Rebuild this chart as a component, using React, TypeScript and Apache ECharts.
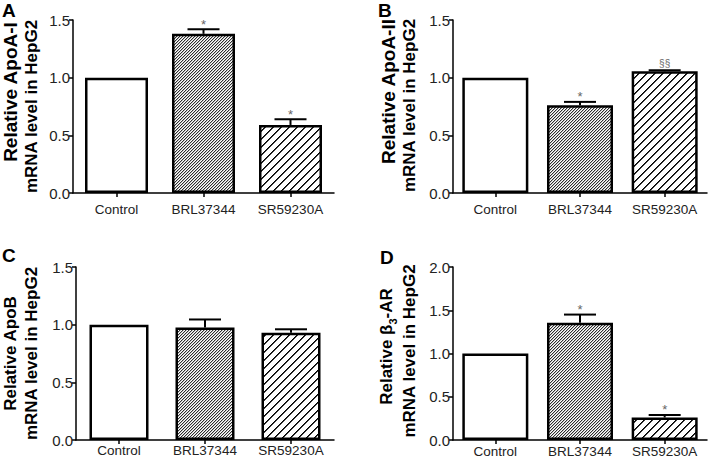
import React, { useEffect, useRef } from 'react';
import * as echarts from 'echarts';

// ---------- data ----------
const categories = ['Control', 'BRL37344', 'SR59230A'];

const apoAIMean = [1.0, 1.38, 0.59];
const apoAIErr = [0, 0.04, 0.05];
const apoAISig = ['', '*', '*'];

const apoAIIMean = [1.0, 0.76, 1.055];
const apoAIIErr = [0, 0.03, 0.01];
const apoAIISig = ['', '*', '§§'];

const apoBMean = [1.0, 0.975, 0.93];
const apoBErr = [0, 0.07, 0.03];
const apoBSig = ['', '', ''];

const beta3Mean = [1.0, 1.355, 0.26];
const beta3Err = [0, 0.095, 0.03];
const beta3Sig = ['', '*', '*'];

const titleA = ['Relative ApoA-I', 'mRNA level in HepG2'];
const titleB = ['Relative ApoA-II', 'mRNA level in HepG2'];
const titleC = ['Relative ApoB', 'mRNA level in HepG2'];
const titleD = ['{m|Relative β}{sub|3}{m|-AR}', 'mRNA level in HepG2'];

const FONT = '"Liberation Sans", Arial, Helvetica, sans-serif';

function makeHatch(period: number, shade: (d: number) => number) {
  const c = document.createElement('canvas');
  c.width = period;
  c.height = period;
  const ctx = c.getContext('2d')!;
  const img = ctx.createImageData(period, period);
  for (let y = 0; y < period; y++) {
    for (let x = 0; x < period; x++) {
      const d = (x + y) % period;
      const v = shade(d);
      const k = (y * period + x) * 4;
      img.data[k] = v;
      img.data[k + 1] = v;
      img.data[k + 2] = v;
      img.data[k + 3] = 255;
    }
  }
  ctx.putImageData(img, 0, 0);
  return { image: c, repeat: 'repeat', imageWidth: period, imageHeight: period } as any;
}

export default function App() {
  const ref = useRef<HTMLDivElement>(null);

  useEffect(() => {
    if (!ref.current) return;
    const chart = echarts.init(ref.current, null, { renderer: 'svg' });

    const dense = makeHatch(3, (d) => (d === 2 ? 45 : d === 0 ? 190 : 255));
    const sparse = makeHatch(8, (d) => (d === 7 ? 0 : d === 0 ? 60 : 255));
    const fills = ['#ffffff', dense, sparse];

    const panels = [
      {
        letter: 'A', mean: apoAIMean, err: apoAIErr, sig: apoAISig, yMax: 1.5,
        title: titleA, t1: { x: 10, y: 92, size: 19 }, t2: { x: 31, y: 106.5, size: 17 },
        grid: { left: 73, top: 20, width: 261, height: 173 },
        barWidth: 63, labelMargin: 9, letterPos: [2, 1],
      },
      {
        letter: 'B', mean: apoAIIMean, err: apoAIIErr, sig: apoAIISig, yMax: 1.5,
        title: titleB, t1: { x: 388, y: 91.5, size: 19 }, t2: { x: 409, y: 105.5, size: 17 },
        grid: { left: 453, top: 20, width: 254, height: 173 },
        barWidth: 66, labelMargin: 9, letterPos: [378, 1],
      },
      {
        letter: 'C', mean: apoBMean, err: apoBErr, sig: apoBSig, yMax: 1.5,
        title: titleC, t1: { x: 10, y: 353.5, size: 17 }, t2: { x: 31, y: 353.5, size: 17 },
        grid: { left: 76, top: 267, width: 258, height: 173 },
        barWidth: 59, labelMargin: 3, letterPos: [2, 246],
      },
      {
        letter: 'D', mean: beta3Mean, err: beta3Err, sig: beta3Sig, yMax: 2.0,
        title: titleD, t1: { x: 388, y: 346.5, size: 17 }, t2: { x: 409, y: 351, size: 17 },
        grid: { left: 453, top: 267, width: 254, height: 173 },
        barWidth: 66, labelMargin: 4, letterPos: [380, 248],
      },
    ];

    const grid: any[] = [];
    const xAxis: any[] = [];
    const yAxis: any[] = [];
    const series: any[] = [];
    const graphic: any[] = [];

    const subRich = {
      m: { fontSize: 17, fontWeight: 'bold', fill: '#000', lineHeight: 20, verticalAlign: 'top', fontFamily: FONT },
      sub: { fontSize: 11, fontWeight: 'bold', fill: '#000', lineHeight: 12, verticalAlign: 'bottom', fontFamily: FONT },
    };

    panels.forEach((p, gi) => {
      grid.push({ ...p.grid, outerBoundsMode: 'none', containLabel: false });
      xAxis.push({
        type: 'category',
        gridIndex: gi,
        data: categories,
        axisLine: { show: true, lineStyle: { color: '#000', width: 1.5 } },
        axisTick: { show: true, alignWithLabel: true, length: 4, lineStyle: { color: '#000', width: 1.5 } },
        axisLabel: { interval: 0, fontSize: 13.5, color: '#222', margin: p.labelMargin, fontFamily: FONT },
        splitLine: { show: false },
      });
      yAxis.push({
        type: 'value',
        gridIndex: gi,
        min: 0,
        max: p.yMax,
        interval: 0.5,
        axisLine: { show: true, lineStyle: { color: '#000', width: 1.5 } },
        axisTick: { show: true, length: 4, lineStyle: { color: '#000', width: 1.5 } },
        axisLabel: {
          fontSize: 15, color: '#222', margin: 3, fontFamily: FONT,
          formatter: (v: number) => v.toFixed(1),
        },
        splitLine: { show: false },
      });
      series.push({
        type: 'bar',
        xAxisIndex: gi,
        yAxisIndex: gi,
        barWidth: p.barWidth,
        data: p.mean.map((v, i) => ({ value: v, itemStyle: { color: fills[i] } })),
        itemStyle: { borderColor: '#000', borderWidth: 2.5 },
        z: 2,
      });
      const errs = p.err;
      const sigs = p.sig;
      series.push({
        type: 'custom',
        xAxisIndex: gi,
        yAxisIndex: gi,
        data: p.mean.map((m, i) => [i, m, m + errs[i]]),
        z: 4,
        renderItem: (params: any, api: any) => {
          const idx = params.dataIndex;
          const i = api.value(0);
          const base = api.coord([i, api.value(1)]);
          const top = api.coord([i, api.value(2)]);
          const children: any[] = [];
          if (errs[idx] > 0) {
            children.push({
              type: 'line',
              shape: { x1: base[0], y1: base[1], x2: top[0], y2: top[1] },
              style: { stroke: '#000', lineWidth: 2 },
            });
            children.push({
              type: 'line',
              shape: { x1: top[0] - 16, y1: top[1], x2: top[0] + 16, y2: top[1] },
              style: { stroke: '#000', lineWidth: 2 },
            });
          }
          const s = sigs[idx];
          if (s) {
            const isStar = s === '*';
            children.push({
              type: 'text',
              style: {
                text: s,
                x: top[0],
                y: top[1] - (isStar ? 5 : 7),
                fill: '#666',
                fontSize: isStar ? 13 : 10,
                fontFamily: FONT,
                align: 'center',
                verticalAlign: 'middle',
              },
            });
          }
          return { type: 'group', children };
        },
      });
      graphic.push({
        type: 'text',
        left: p.letterPos[0],
        top: p.letterPos[1],
        style: { text: p.letter, fontSize: 19, fontWeight: 'bold', fill: '#000', fontFamily: FONT },
      });
      [p.t1, p.t2].forEach((t, li) => {
        graphic.push({
          type: 'text',
          x: t.x,
          y: t.y,
          rotation: Math.PI / 2,
          style: {
            text: p.title[li],
            fontSize: t.size,
            fontWeight: 'bold',
            fill: '#000',
            fontFamily: FONT,
            align: 'center',
            verticalAlign: 'middle',
            rich: subRich,
          },
        });
      });
    });

    chart.setOption({
      animation: false,
      backgroundColor: '#fff',
      grid,
      xAxis,
      yAxis,
      series,
      graphic,
    });

    return () => chart.dispose();
  }, []);

  return (
    <div
      ref={ref}
      style={{ position: 'absolute', left: 0, top: 0, width: 713, height: 461 }}
    />
  );
}
